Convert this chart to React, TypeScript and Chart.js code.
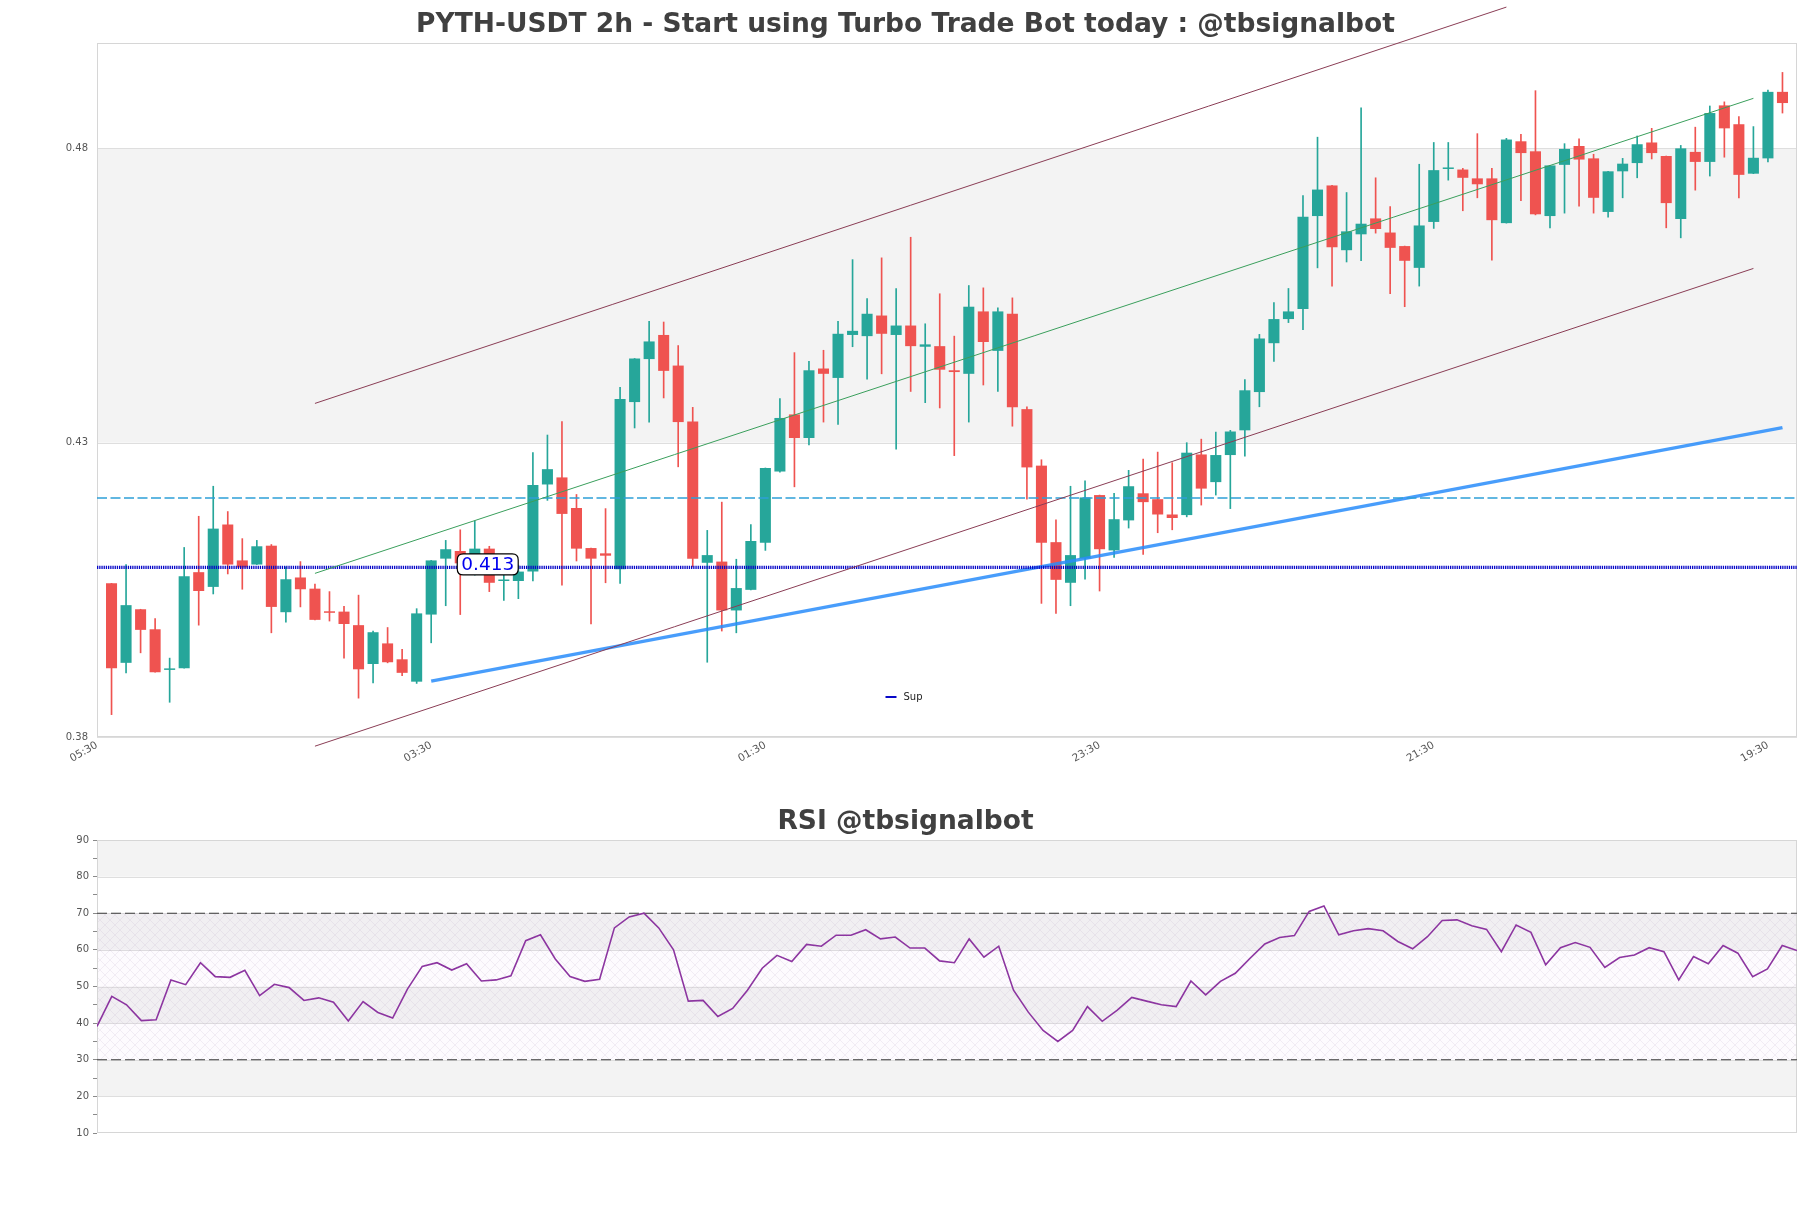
import React, { useEffect, useRef } from "react";
import { Chart, registerables } from "chart.js";

Chart.register(...registerables);

// ---------------- DATA ----------------
const opens = [
  0.4061, 0.3926, 0.4017, 0.3983, 0.3914, 0.3917, 0.4080, 0.4055, 0.4161, 0.4100,
  0.4093, 0.4125, 0.4012, 0.4071, 0.4052, 0.4013, 0.4013, 0.3990, 0.3924, 0.3959,
  0.3932, 0.3894, 0.4008, 0.4103, 0.4116, 0.4109, 0.4120, 0.4065, 0.4065, 0.4081,
  0.4229, 0.4241, 0.4189, 0.4121, 0.4112, 0.4085, 0.4369, 0.4442, 0.4483, 0.4431,
  0.4336, 0.4096, 0.4098, 0.4015, 0.4050, 0.4130, 0.4251, 0.4348, 0.4308, 0.4426,
  0.4410, 0.4483, 0.4481, 0.4516, 0.4483, 0.4499, 0.4463, 0.4464, 0.4423, 0.4417,
  0.4523, 0.4456, 0.4519, 0.4357, 0.4261, 0.4131, 0.4062, 0.4103, 0.4211, 0.4117,
  0.4168, 0.4214, 0.4204, 0.4178, 0.4177, 0.4280, 0.4233, 0.4279, 0.4321, 0.4386,
  0.4469, 0.4510, 0.4527, 0.4685, 0.4737, 0.4627, 0.4654, 0.4681, 0.4657, 0.4634,
  0.4597, 0.4675, 0.4765, 0.4764, 0.4749, 0.4749, 0.4673, 0.4812, 0.4795, 0.4685,
  0.4772, 0.4804, 0.4783, 0.4692, 0.4761, 0.4775, 0.4810, 0.4787, 0.4680, 0.4794,
  0.4777, 0.4873, 0.4841, 0.4757, 0.4783, 0.4896,
];
const highs = [
  0.4061, 0.4093, 0.4017, 0.4001, 0.3934, 0.4122, 0.4175, 0.4226, 0.4183, 0.4137,
  0.4134, 0.4127, 0.4089, 0.4098, 0.4060, 0.4047, 0.4022, 0.4041, 0.3980, 0.3986,
  0.3949, 0.4018, 0.4100, 0.4134, 0.4152, 0.4167, 0.4124, 0.4081, 0.4092, 0.4283,
  0.4313, 0.4336, 0.4212, 0.4121, 0.4188, 0.4394, 0.4443, 0.4506, 0.4505, 0.4465,
  0.4360, 0.4151, 0.4199, 0.4102, 0.4161, 0.4257, 0.4375, 0.4453, 0.4438, 0.4457,
  0.4506, 0.4611, 0.4545, 0.4614, 0.4562, 0.4649, 0.4502, 0.4553, 0.4481, 0.4567,
  0.4563, 0.4529, 0.4546, 0.4361, 0.4271, 0.4169, 0.4226, 0.4235, 0.4211, 0.4214,
  0.4253, 0.4272, 0.4284, 0.4266, 0.4300, 0.4306, 0.4318, 0.4321, 0.4407, 0.4484,
  0.4538, 0.4562, 0.4720, 0.4819, 0.4737, 0.4725, 0.4869, 0.4750, 0.4701, 0.4634,
  0.4773, 0.4810, 0.4810, 0.4766, 0.4825, 0.4766, 0.4817, 0.4824, 0.4898, 0.4771,
  0.4808, 0.4816, 0.4790, 0.4761, 0.4783, 0.4821, 0.4834, 0.4787, 0.4805, 0.4836,
  0.4872, 0.4879, 0.4854, 0.4837, 0.4899, 0.4929,
];
const lows = [
  0.3838, 0.3909, 0.3943, 0.3910, 0.3859, 0.3917, 0.3990, 0.4043, 0.4077, 0.4051,
  0.4093, 0.3977, 0.3995, 0.4021, 0.3999, 0.3997, 0.3934, 0.3866, 0.3892, 0.3926,
  0.3904, 0.3891, 0.3960, 0.4023, 0.4008, 0.4075, 0.4047, 0.4032, 0.4035, 0.4065,
  0.4202, 0.4058, 0.4099, 0.3992, 0.4062, 0.4061, 0.4325, 0.4335, 0.4376, 0.4259,
  0.4089, 0.3927, 0.3980, 0.3977, 0.4050, 0.4117, 0.4250, 0.4225, 0.4296, 0.4335,
  0.4331, 0.4463, 0.4408, 0.4417, 0.4289, 0.4387, 0.4368, 0.4359, 0.4278, 0.4335,
  0.4398, 0.4387, 0.4328, 0.4204, 0.4027, 0.4010, 0.4023, 0.4068, 0.4048, 0.4105,
  0.4155, 0.4110, 0.4147, 0.4152, 0.4174, 0.4194, 0.4211, 0.4188, 0.4277, 0.4361,
  0.4438, 0.4504, 0.4492, 0.4597, 0.4566, 0.4607, 0.4609, 0.4656, 0.4553, 0.4531,
  0.4566, 0.4664, 0.4746, 0.4694, 0.4716, 0.4610, 0.4673, 0.4711, 0.4687, 0.4665,
  0.4690, 0.4702, 0.4690, 0.4683, 0.4716, 0.4750, 0.4782, 0.4665, 0.4648, 0.4729,
  0.4753, 0.4785, 0.4716, 0.4757, 0.4777, 0.4860,
];
const closes = [
  0.3917, 0.4024, 0.3982, 0.3910, 0.3916, 0.4073, 0.4048, 0.4154, 0.4093, 0.4088,
  0.4124, 0.4021, 0.4068, 0.4051, 0.3999, 0.4011, 0.3992, 0.3915, 0.3978, 0.3927,
  0.3909, 0.4010, 0.4100, 0.4119, 0.4095, 0.4120, 0.4062, 0.4067, 0.4081, 0.4228,
  0.4255, 0.4179, 0.4120, 0.4103, 0.4108, 0.4374, 0.4443, 0.4472, 0.4422, 0.4335,
  0.4103, 0.4109, 0.4015, 0.4053, 0.4133, 0.4257, 0.4342, 0.4308, 0.4423, 0.4417,
  0.4485, 0.4490, 0.4519, 0.4485, 0.4499, 0.4464, 0.4467, 0.4424, 0.4420, 0.4531,
  0.4471, 0.4523, 0.4360, 0.4258, 0.4130, 0.4067, 0.4109, 0.4207, 0.4119, 0.4170,
  0.4226, 0.4199, 0.4178, 0.4172, 0.4283, 0.4222, 0.4279, 0.4319, 0.4389, 0.4477,
  0.4510, 0.4523, 0.4684, 0.4730, 0.4632, 0.4659, 0.4672, 0.4663, 0.4631, 0.4609,
  0.4669, 0.4763, 0.4767, 0.4750, 0.4739, 0.4678, 0.4815, 0.4792, 0.4688, 0.4771,
  0.4799, 0.4781, 0.4716, 0.4761, 0.4774, 0.4807, 0.4792, 0.4707, 0.4800, 0.4777,
  0.4860, 0.4834, 0.4755, 0.4784, 0.4896, 0.4877,
];

const rsiValues = [
  39.1, 47.3, 45.0, 40.7, 40.9, 51.8, 50.5, 56.5, 52.7, 52.5,
  54.4, 47.5, 50.6, 49.7, 46.2, 46.9, 45.7, 40.6, 45.9, 42.9,
  41.4, 49.3, 55.5, 56.5, 54.5, 56.2, 51.5, 51.8, 52.9, 62.5,
  64.1, 57.5, 52.7, 51.4, 52.0, 66.0, 69.0, 70.0, 66.0, 60.0,
  46.0, 46.2, 41.8, 44.0, 49.0, 55.0, 58.5, 56.8, 61.5, 61.0,
  64.0, 64.0, 65.5, 63.0, 63.5, 60.5, 60.5, 57.0, 56.5, 63.0,
  58.0, 61.0, 49.0, 43.0, 38.0, 35.0, 38.0, 44.5, 40.5, 43.5,
  47.0, 46.0, 45.0, 44.5, 51.5, 47.7, 51.4, 53.6, 57.7, 61.6,
  63.4, 63.9, 70.5, 72.0, 64.1, 65.2, 65.8, 65.2, 62.3, 60.3,
  63.6, 68.0, 68.2, 66.6, 65.6, 59.5, 66.8, 64.8, 55.9, 60.6,
  62.0, 60.7, 55.2, 57.9, 58.6, 60.6, 59.5, 51.8, 58.2, 56.2,
  61.2, 59.1, 52.7, 54.8, 61.2, 59.8,
];

const xTickPositions = [-1, 22, 45, 68, 91, 114];
const xTickLabels = ["05:30", "03:30", "01:30", "23:30", "21:30", "19:30"];
const yTicksMain = [0.38, 0.43, 0.48];
const rsiTicks = [10, 15, 20, 25, 30, 35, 40, 45, 50, 55, 60, 65, 70, 75, 80, 85, 90];
const rsiBandEdges = [10, 20, 30, 40, 50, 60, 70, 80, 90];
const rsiOverbought = 70;
const rsiOversold = 30;

const channelUpper = [{ x: 14, y: 0.43667 }, { x: 96, y: 0.5040 }];
const channelLower = [{ x: 14, y: 0.37844 }, { x: 113, y: 0.4596 }];
const channelMid = [{ x: 14, y: 0.4078 }, { x: 113, y: 0.4885 }];
const supportTrend = [{ x: 22, y: 0.38949 }, { x: 115, y: 0.43256 }];
const resistanceLevel = 0.4206;
const supLevel = 0.4088;
const supLabelText = "0.413";
const supLabelIndex = 24;
const legendLabel = "Sup";

const mainTitle = "PYTH-USDT 2h - Start using Turbo Trade Bot today : @tbsignalbot";
const rsiTitle = "RSI @tbsignalbot";

// ---------------- STYLE ----------------
const FONT = "'DejaVu Sans', 'Liberation Sans', sans-serif";
const GREEN = "#26a69a";
const RED = "#ef5350";
const MAROON = "#8a3d55";
const MIDGREEN = "#3a9f5c";
const SUPBLUE = "rgba(40,140,250,0.85)";
const CYAN = "#2ea0d8";
const DOTBLUE = "#0808c8";
const BAND = "#f3f3f3";
const GRID = "#dedede";
const FRAME = "#d6d6d6";
const TITLE_COLOR = "#404040";
const TICK_COLOR = "#555555";

const XMIN = -1;
const XMAX = 116;
const YMIN = 0.38;
const YMAX = 0.4979;

function drawBands(chart: any, edges: number[], gridVals: number[]) {
  const { ctx, chartArea: a, scales } = chart;
  const y = scales.y;
  for (let k = 0; k < edges.length - 1; k++) {
    if (k % 2 === 1) {
      const y0 = y.getPixelForValue(edges[k + 1]);
      const y1 = y.getPixelForValue(edges[k]);
      ctx.fillStyle = BAND;
      ctx.fillRect(a.left, y0, a.right - a.left, y1 - y0);
    }
  }
  ctx.strokeStyle = GRID;
  ctx.lineWidth = 1;
  for (const v of gridVals) {
    const py = Math.round(y.getPixelForValue(v)) + 0.5;
    ctx.beginPath();
    ctx.moveTo(a.left, py);
    ctx.lineTo(a.right, py);
    ctx.stroke();
  }
}

function drawFrame(chart: any) {
  const { ctx, chartArea: a } = chart;
  ctx.strokeStyle = FRAME;
  ctx.lineWidth = 1;
  ctx.strokeRect(Math.round(a.left) + 0.5, Math.round(a.top) + 0.5, Math.round(a.right - a.left) - 1, Math.round(a.bottom - a.top) - 1);
}

const mainPlugin = {
  id: "mainDecor",
  beforeDatasetsDraw(chart: any) {
    const { ctx } = chart;
    ctx.save();
    drawBands(chart, [YMIN, ...yTicksMain.filter((v) => v > YMIN && v < YMAX), YMAX], yTicksMain);
    drawFrame(chart);
    ctx.restore();
  },
  afterDraw(chart: any) {
    const { ctx, chartArea: a, scales } = chart;
    ctx.save();
    // title
    ctx.fillStyle = TITLE_COLOR;
    ctx.font = `bold 26.5px ${FONT}`;
    ctx.textAlign = "center";
    ctx.textBaseline = "alphabetic";
    ctx.fillText(mainTitle, chart.width / 2, 32);
    // legend
    const ly = a.bottom - 40;
    const lx = chart.width / 2 - 20;
    ctx.strokeStyle = DOTBLUE;
    ctx.lineWidth = 2;
    ctx.beginPath();
    ctx.moveTo(lx, ly);
    ctx.lineTo(lx + 11, ly);
    ctx.stroke();
    ctx.fillStyle = "#222";
    ctx.font = `10px ${FONT}`;
    ctx.textAlign = "left";
    ctx.textBaseline = "middle";
    ctx.fillText(legendLabel, lx + 18, ly);
    // label box
    ctx.font = `18.5px ${FONT}`;
    const tw = ctx.measureText(supLabelText).width;
    const tx = scales.x.getPixelForValue(supLabelIndex);
    const ty = scales.y.getPixelForValue(supLevel) - 3;
    const bx = tx - 3;
    const bw = tw + 8;
    const bh = 21;
    const by = ty - bh / 2;
    ctx.beginPath();
    const r = 6;
    ctx.moveTo(bx + r, by);
    ctx.lineTo(bx + bw - r, by);
    ctx.quadraticCurveTo(bx + bw, by, bx + bw, by + r);
    ctx.lineTo(bx + bw, by + bh - r);
    ctx.quadraticCurveTo(bx + bw, by + bh, bx + bw - r, by + bh);
    ctx.lineTo(bx + r, by + bh);
    ctx.quadraticCurveTo(bx, by + bh, bx, by + bh - r);
    ctx.lineTo(bx, by + r);
    ctx.quadraticCurveTo(bx, by, bx + r, by);
    ctx.closePath();
    ctx.fillStyle = "#ffffff";
    ctx.fill();
    ctx.strokeStyle = "#000000";
    ctx.lineWidth = 1.2;
    ctx.stroke();
    ctx.fillStyle = "#0000ee";
    ctx.textAlign = "left";
    ctx.textBaseline = "middle";
    ctx.fillText(supLabelText, tx + 1, ty + 1);
    ctx.restore();
  },
};

let hatchPattern: CanvasPattern | null = null;
function getHatch(ctx: CanvasRenderingContext2D) {
  if (hatchPattern) return hatchPattern;
  const c = document.createElement("canvas");
  c.width = 10;
  c.height = 10;
  const p = c.getContext("2d")!;
  p.fillStyle = "rgba(215,180,230,0.05)";
  p.fillRect(0, 0, 10, 10);
  p.strokeStyle = "rgba(160,140,175,0.22)";
  p.lineWidth = 0.6;
  p.beginPath();
  p.moveTo(0, 0);
  p.lineTo(10, 10);
  p.moveTo(0, 10);
  p.lineTo(10, 0);
  p.stroke();
  hatchPattern = ctx.createPattern(c, "repeat");
  return hatchPattern;
}

const rsiPlugin = {
  id: "rsiDecor",
  beforeDatasetsDraw(chart: any) {
    const { ctx, chartArea: a, scales } = chart;
    ctx.save();
    drawBands(chart, rsiBandEdges, rsiBandEdges.slice(1, -1));
    const y0 = scales.y.getPixelForValue(rsiOverbought);
    const y1 = scales.y.getPixelForValue(rsiOversold);
    const pat = getHatch(ctx);
    if (pat) {
      ctx.fillStyle = pat;
      ctx.fillRect(a.left, y0, a.right - a.left, y1 - y0);
    }
    drawFrame(chart);
    ctx.restore();
  },
  afterDraw(chart: any) {
    const { ctx } = chart;
    ctx.save();
    ctx.fillStyle = TITLE_COLOR;
    ctx.font = `bold 26.5px ${FONT}`;
    ctx.textAlign = "center";
    ctx.textBaseline = "alphabetic";
    ctx.fillText(rsiTitle, chart.width / 2, 49);
    ctx.restore();
  },
};

function hLine(level: number, x0: number, x1: number) {
  return [{ x: x0, y: level }, { x: x1, y: level }];
}

export default function App() {
  const mainRef = useRef<HTMLCanvasElement>(null);
  const rsiRef = useRef<HTMLCanvasElement>(null);

  useEffect(() => {
    const idx = opens.map((_, i) => i);
    const colors = idx.map((i) => (closes[i] >= opens[i] ? GREEN : RED));
    const lineBase = { type: "line", pointRadius: 0, tension: 0, clip: false, fill: false, order: 0 };

    const mainChart = new Chart(mainRef.current as HTMLCanvasElement, {
      type: "bar",
      data: {
        datasets: [
          {
            type: "bar",
            label: "wick",
            data: idx.map((i) => ({ x: i, y: [lows[i], highs[i]] })),
            backgroundColor: colors,
            barThickness: 1,
            grouped: false,
            order: 3,
          },
          {
            type: "bar",
            label: "body",
            data: idx.map((i) => ({ x: i, y: [opens[i], closes[i]] })),
            backgroundColor: colors,
            barPercentage: 0.76,
            categoryPercentage: 1,
            grouped: false,
            minBarLength: 1.5,
            order: 2,
          },
          { ...lineBase, label: "upper", data: channelUpper, borderColor: MAROON, borderWidth: 1 },
          { ...lineBase, label: "lower", data: channelLower, borderColor: MAROON, borderWidth: 1 },
          { ...lineBase, label: "mid", data: channelMid, borderColor: MIDGREEN, borderWidth: 1 },
          { ...lineBase, label: "res", data: hLine(resistanceLevel, XMIN, XMAX), borderColor: CYAN, borderWidth: 1.3, borderDash: [10, 3.5] },
          { ...lineBase, label: "Sup", data: hLine(supLevel, XMIN, XMAX), borderColor: DOTBLUE, borderWidth: 3.2, borderDash: [1.3, 0.9] },
          { ...lineBase, label: "trend", data: supportTrend, borderColor: SUPBLUE, borderWidth: 3.5 },
        ] as any,
      },
      options: {
        responsive: false,
        animation: false,
        devicePixelRatio: 1,
        events: [],
        layout: { padding: { top: 43, right: 14, bottom: 0, left: 0 } },
        plugins: { legend: { display: false }, title: { display: false }, tooltip: { enabled: false } },
        scales: {
          x: {
            type: "linear",
            min: XMIN,
            max: XMAX,
            offset: false,
            grid: { display: false, drawTicks: false, offset: false },
            border: { display: false },
            afterBuildTicks: (s: any) => {
              s.ticks = xTickPositions.map((v) => ({ value: v }));
            },
            afterFit: (s: any) => {
              s.height = 43;
              s.paddingLeft = 0;
              s.paddingRight = 0;
            },
            ticks: {
              autoSkip: false,
              minRotation: 30,
              maxRotation: 30,
              padding: 2,
              color: TICK_COLOR,
              font: { family: FONT, size: 10.5 },
              callback: (v: any) => {
                const k = xTickPositions.indexOf(Number(v));
                return k >= 0 ? xTickLabels[k] : "";
              },
            },
          },
          y: {
            type: "linear",
            min: YMIN,
            max: YMAX,
            grid: { display: false, drawTicks: false },
            border: { display: false },
            afterBuildTicks: (s: any) => {
              s.ticks = yTicksMain.map((v) => ({ value: v }));
            },
            afterFit: (s: any) => {
              s.width = 97;
              s.paddingTop = 0;
              s.paddingBottom = 0;
            },
            ticks: {
              padding: 9,
              color: TICK_COLOR,
              font: { family: FONT, size: 10 },
              callback: (v: any) => Number(v).toFixed(2),
            },
          },
        },
      } as any,
      plugins: [mainPlugin],
    } as any);

    const rsiChart = new Chart(rsiRef.current as HTMLCanvasElement, {
      type: "line",
      data: {
        datasets: [
          {
            label: "RSI",
            data: idx.map((i) => ({ x: i, y: rsiValues[i] })),
            borderColor: "#8c35a0",
            borderWidth: 1.6,
            pointRadius: 0,
            tension: 0,
            fill: false,
            order: 1,
          },
          { ...lineBase, label: "ob", data: hLine(rsiOverbought, 0, idx.length - 1), borderColor: "#3a3a3a", borderWidth: 1.2, borderDash: [10, 4], order: 2 },
          { ...lineBase, label: "os", data: hLine(rsiOversold, 0, idx.length - 1), borderColor: "#3a3a3a", borderWidth: 1.2, borderDash: [10, 4], order: 2 },
        ] as any,
      },
      options: {
        responsive: false,
        animation: false,
        devicePixelRatio: 1,
        events: [],
        layout: { padding: { top: 60, right: 14, bottom: 75, left: 0 } },
        plugins: { legend: { display: false }, title: { display: false }, tooltip: { enabled: false } },
        scales: {
          x: { type: "linear", min: 0, max: idx.length - 1, display: false },
          y: {
            type: "linear",
            min: 10,
            max: 90,
            grid: { display: true, drawOnChartArea: false, drawTicks: true, tickLength: 4, color: "#8a8a8a" },
            border: { display: false },
            afterBuildTicks: (s: any) => {
              s.ticks = rsiTicks.map((v) => ({ value: v }));
            },
            afterFit: (s: any) => {
              s.width = 97;
              s.paddingTop = 0;
              s.paddingBottom = 0;
            },
            ticks: {
              padding: 4,
              color: TICK_COLOR,
              font: { family: FONT, size: 10 },
              autoSkip: false,
              callback: (v: any) => (Number(v) % 10 === 0 ? String(v) : ""),
            },
          },
        },
      } as any,
      plugins: [rsiPlugin],
    } as any);

    return () => {
      mainChart.destroy();
      rsiChart.destroy();
    };
  }, []);

  return (
    <div style={{ position: "absolute", left: 0, top: 0, width: 1811, height: 1208, background: "#ffffff" }}>
      <canvas ref={mainRef} width={1811} height={780} style={{ position: "absolute", left: 0, top: 0, width: 1811, height: 780 }} />
      <canvas ref={rsiRef} width={1811} height={428} style={{ position: "absolute", left: 0, top: 780, width: 1811, height: 428 }} />
    </div>
  );
}
